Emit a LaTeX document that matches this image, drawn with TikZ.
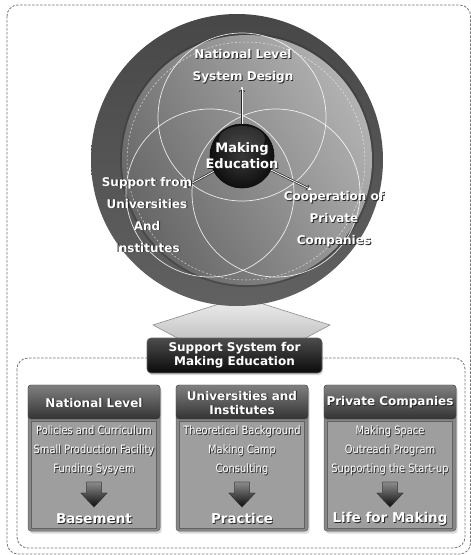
\documentclass[tikz,border=0pt]{standalone}
\usepackage{fontspec}
\setmainfont{DejaVu Sans}
\newfontfamily\condf[FakeStretch=0.86]{DejaVu Sans}
\usetikzlibrary{shadows,arrows.meta}
\newcommand\shd[1]{\makebox[0pt][l]{\kern0.9pt\raisebox{-0.9pt}{\color{black!85}#1}}#1}
\begin{document}
\begin{tikzpicture}[x=1pt,y=-1pt,
  frame/.style={draw=black!55, line width=0.8pt, dash pattern=on 2.5pt off 1.5pt, rounded corners=11pt},
  venn/.style={draw=white, line width=0.7pt, opacity=0.85},
  ctext/.style={text=white, font=\bfseries\fontsize{12}{22}\selectfont, align=center, inner sep=0pt},
  ptitle/.style={text=white, font=\bfseries\fontsize{12}{14}\selectfont, align=center, inner sep=0pt},
  ltext/.style={text=white, font=\condf\fontsize{11.5}{19}\selectfont, align=center, inner sep=0pt},
  bword/.style={text=white, font=\bfseries\fontsize{13.5}{16}\selectfont, inner sep=0pt},
  panel/.style={rectangle, minimum width=132pt, minimum height=146pt, rounded corners=3pt, fill=black!47, draw=black!62, line width=0.5pt, drop shadow={shadow xshift=1.5pt, shadow yshift=-2.5pt, opacity=0.3}},
  hdr/.style={rectangle, minimum width=132pt, minimum height=34pt, rounded corners=3pt, top color=black!50, bottom color=black!80, draw=black!70, line width=0.4pt},
  inset/.style={rectangle, minimum width=125pt, minimum height=107pt, fill=black!38, draw=black!62, line width=0.6pt},
  darrow/.style={top color=black!45, bottom color=black!95, draw=black!80, line width=0.4pt},
  outerline/.style={line width=2.2pt, black!85, -{Stealth[length=6pt,width=6pt]}},
  innerline/.style={line width=0.8pt, white, -{Stealth[length=4.5pt,width=4pt]}}
]
\useasboundingbox (0,0) rectangle (471,555);

% frames
\draw[frame] (7,5) rectangle (470.6,554);
\draw[frame] (17,358) rectangle (465,548);

% big upward arrow
\draw[draw=black!45, line width=0.6pt, top color=black!6, bottom color=black!24]
  (241,297) -- (330,325) -- (300,341) -- (183,341) -- (153,325) -- cycle;

% big disc
\shade[top color=black!72, bottom color=black!62] (237,160) circle[radius=146pt];
\draw[black!80, line width=2pt, opacity=0.45] (247,160) circle[radius=126pt];
\shade[shading=axis, top color=black!30, bottom color=black!60, shading angle=-60] (247,160) circle[radius=125pt];
\draw[white, opacity=0.7, line width=0.5pt, dash pattern=on 2pt off 2pt] (246,161) circle[radius=119pt];

% venn circles
\draw[venn] (242,117) circle[radius=84pt];
\draw[venn] (210,193) circle[radius=84pt];
\draw[venn] (276,193) circle[radius=84pt];

% centre sphere
\node[circle, minimum size=64pt, inner sep=0pt, shading=radial, inner color=black!78, outer color=black!94, draw=black!95, line width=0.6pt] (mk) at (242,156) {};
\fill[white, opacity=0.12] (242,139) ellipse[x radius=23pt, y radius=13pt];

\coordinate (upTip) at (242,86);
\coordinate (lTip) at (183,188);
\coordinate (rTip) at (312,190);
\draw[outerline] (mk) -- (upTip);
\draw[innerline] (mk) -- (upTip);
\draw[outerline] (mk) -- (lTip);
\draw[innerline] (mk) -- (lTip);
\draw[outerline] (mk) -- (rTip);
\draw[innerline] (mk) -- (rTip);

\node[ctext, font=\bfseries\fontsize{13}{16}\selectfont] (mkt) at (242,156) {\shd{Making}\\\shd{Education}};
\node[ctext] (nl) at (243,67) {\shd{National Level}\\\shd{System Design}};
\node[ctext] (su) at (147,215) {\shd{Support from}\\\shd{Universities}\\\shd{And}\\\shd{Institutes}};
\node[ctext] (co) at (334,220) {\shd{Cooperation of}\\\shd{Private}\\\shd{Companies}};

% support box
\node[draw=black!60, line width=0.6pt, rounded corners=4pt, top color=black!70, bottom color=black!96,
  minimum width=175pt, minimum height=35pt, text=white, font=\bfseries\fontsize{12}{14}\selectfont,
  align=center, drop shadow={shadow xshift=1pt, shadow yshift=-2pt, opacity=0.3}] (ss) at (234.5,355.5)
  {Support System for\\Making Education};

% panel 1
\node[panel] (p1) at (94,458) {};
\node[hdr] (h1) at (94,402) {};
\node[ptitle] (t1) at (94,403) {\shd{National Level}};
\node[inset] (i1) at (94,474.5) {};
\node[ltext] (l1) at (94,451) {\shd{Policies and Curriculum}\\\shd{Small Production Facility}\\\shd{Funding Sysyem}};
\shade[darrow] (86.5,482) -- (101.5,482) -- (101.5,493) -- (107,493) -- (94,507) -- (81,493) -- (86.5,493) -- cycle;
\draw[black!80, line width=0.4pt] (86.5,482) -- (101.5,482) -- (101.5,493) -- (107,493) -- (94,507) -- (81,493) -- (86.5,493) -- cycle;
\node[bword] (w1) at (94,519) {\shd{Basement}};

% panel 2
\node[panel] (p2) at (242,458) {};
\node[hdr] (h2) at (242,402) {};
\node[ptitle] (t2) at (242,403) {\shd{Universities and}\\\shd{Institutes}};
\node[inset] (i2) at (242,474.5) {};
\node[ltext] (l2) at (242,451) {\shd{Theoretical Background}\\\shd{Making Camp}\\\shd{Consulting}};
\shade[darrow] (234.5,482) -- (249.5,482) -- (249.5,493) -- (255,493) -- (242,507) -- (229,493) -- (234.5,493) -- cycle;
\draw[black!80, line width=0.4pt] (234.5,482) -- (249.5,482) -- (249.5,493) -- (255,493) -- (242,507) -- (229,493) -- (234.5,493) -- cycle;
\node[bword] (w2) at (242,519) {\shd{Practice}};

% panel 3
\node[panel] (p3) at (390,458) {};
\node[hdr] (h3) at (390,402) {};
\node[ptitle] (t3) at (390,403) {\shd{Private Companies}};
\node[inset] (i3) at (390,474.5) {};
\node[ltext] (l3) at (390,451) {\shd{Making Space}\\\shd{Outreach Program}\\\shd{Supporting the Start-up}};
\shade[darrow] (382.5,482) -- (397.5,482) -- (397.5,493) -- (403,493) -- (390,507) -- (377,493) -- (382.5,493) -- cycle;
\draw[black!80, line width=0.4pt] (382.5,482) -- (397.5,482) -- (397.5,493) -- (403,493) -- (390,507) -- (377,493) -- (382.5,493) -- cycle;
\node[bword] (w3) at (390,519) {\shd{Life for Making}};
\end{tikzpicture}
\end{document}
